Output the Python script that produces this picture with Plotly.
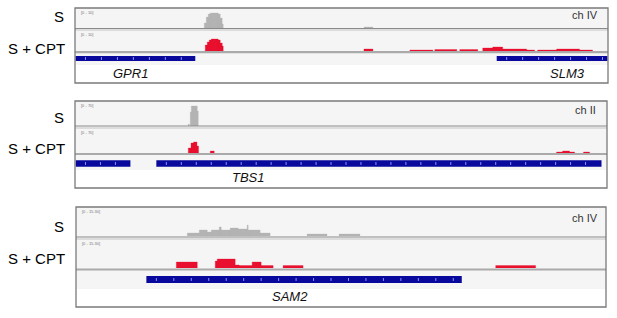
import plotly.graph_objects as go
import numpy as np

# ---------------- data (positions = offset along each locus window, heights = coverage) -------------
# Panel 1 : GPR1 / SLM3 locus (ch IV)
p1_s_start = [129, 131, 133, 135, 143, 145, 147, 289]
p1_s_end = [131, 133, 135, 143, 145, 147, 148, 298]
p1_s_val = [5, 11, 14, 15, 14, 10, 4, 1]

p1_c_start = [130, 132, 134, 136, 143, 145, 147, 289, 335, 360, 385, 408, 418, 428, 452, 463, 482, 505]
p1_c_end = [132, 134, 136, 143, 145, 147, 148, 298, 358, 382, 403, 418, 428, 452, 460, 482, 505, 518]
p1_c_val = [6, 9, 11, 12, 11, 8, 5, 2, 1, 1.5, 1.5, 3, 4, 2, 1, 1, 2, 1]

p1_gene_name = ["GPR1", "SLM3"]
p1_gene_start = [-40, 422]
p1_gene_end = [120, 560]

# Panel 2 : TBS1 locus (ch II)
p2_s_start = [113, 115, 116, 122]
p2_s_end = [114, 116, 122, 123]
p2_s_val = [2, 14, 20, 15]

p2_c_start = [113, 115.7, 118.3, 121.7, 135, 482, 488, 495, 509]
p2_c_end = [115.7, 118.3, 121.7, 123.3, 139, 488, 495, 500, 515]
p2_c_val = [5, 10, 11, 7, 2, 1, 2, 1, 1]

p2_gene_name = ["", "TBS1"]
p2_gene_start = [0, 81]
p2_gene_end = [55, 527]

# Panel 3 : SAM2 locus (ch IV)
p3_s_start = [111, 123, 131, 135, 140, 143, 145, 154, 162, 171, 172, 174, 184, 231, 263]
p3_s_end = [123, 131, 135, 140, 143, 145, 154, 162, 171, 172, 174, 184, 194, 251, 284]
p3_s_val = [3, 6, 4, 6, 6, 9, 6, 8, 7, 11, 6, 6, 3, 2, 2]

p3_c_start = [100, 139, 141, 159, 163, 176, 183, 185, 207, 420]
p3_c_end = [121, 141, 159, 163, 176, 183, 185, 197, 227, 460]
p3_c_val = [6, 7, 9, 3, 2.5, 6, 6, 2.5, 2.5, 2.5]

p3_gene_name = ["SAM2"]
p3_gene_start = [70]
p3_gene_end = [386]

chroms = ["ch IV", "ch II", "ch IV"]
ranges_txt = ["[0 - 10]", "[0 - 70]", "[0 - 15.30]"]
track_names = ["S", "S + CPT"]

# ---------------- layout geometry (pixels) ----------------
W, H = 617, 318
GRAY = "#b3b3b3"
RED = "#e8102e"
BLUE = "#08089c"

panels = [
    dict(left=75, right=608, top=8, bottom=83, s=(28, 9), c=(51, 31), g=(65, 53), gy=6.5, gw=5,
         line1=28.5, line2=30, base=(51, 53.3), glab=74, sy=17, cy=49, chy=15, chx=600,
         s_data=(p1_s_start, p1_s_end, p1_s_val), c_data=(p1_c_start, p1_c_end, p1_c_val),
         genes=(p1_gene_name, p1_gene_start, p1_gene_end), labx=[130, 567], step=16),
    dict(left=75, right=607, top=101, bottom=188, s=(126, 102), c=(153, 129), g=(170, 155), gy=6.5, gw=6.5,
         line1=126, line2=128, base=(153, 155), glab=177, sy=118, cy=148, chy=110, chx=598,
         s_data=(p2_s_start, p2_s_end, p2_s_val), c_data=(p2_c_start, p2_c_end, p2_c_val),
         genes=(p2_gene_name, p2_gene_start, p2_gene_end), labx=[None, 248], step=15),
    dict(left=76, right=606, top=207, bottom=307, s=(236, 208), c=(268, 240), g=(289, 272), gy=9.5, gw=7,
         line1=237, line2=239, base=(268.5, 270.5), glab=296, sy=227, cy=258, chy=218, chx=600,
         s_data=(p3_s_start, p3_s_end, p3_s_val), c_data=(p3_c_start, p3_c_end, p3_c_val),
         genes=(p3_gene_name, p3_gene_start, p3_gene_end), labx=[290], step=17.5),
]


def fx(x):
    return x / W


def fy(y):
    return 1 - y / H


def step_outline(starts, ends, vals):
    xs, ys = [], []
    for s, e, v in zip(starts, ends, vals):
        xs += [s, s, e, e, s, None]
        ys += [0, v, v, 0, 0, None]
    return xs, ys


fig = go.Figure()
shapes = []
annotations = []
layout_axes = {}
ax_i = 0

for pi, p in enumerate(panels):
    width = p["right"] - p["left"]
    shapes.append(dict(type="rect", xref="paper", yref="paper", layer="below",
                       x0=fx(p["left"]), x1=fx(p["right"]), y0=fy(p["g"][0]), y1=fy(p["top"]),
                       fillcolor="#f5f5f5", line=dict(width=0)))
    shapes.append(dict(type="line", xref="paper", yref="paper", x0=fx(p["left"]), x1=fx(p["right"]),
                       y0=fy(p["line1"]), y1=fy(p["line1"]), line=dict(color="#8a8a8a", width=1)))
    shapes.append(dict(type="line", xref="paper", yref="paper", x0=fx(p["left"]), x1=fx(p["right"]),
                       y0=fy(p["line2"]), y1=fy(p["line2"]), line=dict(color="#c4c4c4", width=1)))
    shapes.append(dict(type="rect", xref="paper", yref="paper", x0=fx(p["left"]), x1=fx(p["right"]),
                       y0=fy(p["base"][1]), y1=fy(p["base"][0]), fillcolor="#aaaaaa", line=dict(width=0)))
    shapes.append(dict(type="rect", xref="paper", yref="paper", x0=fx(p["left"]), x1=fx(p["right"]),
                       y0=fy(p["bottom"]), y1=fy(p["top"]), line=dict(color="#7a7a7a", width=1.3)))

    for key, data, col in [("s", p["s_data"], GRAY), ("c", p["c_data"], RED), ("g", None, BLUE)]:
        ax_i += 1
        xa = "xaxis" if ax_i == 1 else f"xaxis{ax_i}"
        ya = "yaxis" if ax_i == 1 else f"yaxis{ax_i}"
        xr = "x" if ax_i == 1 else f"x{ax_i}"
        yr = "y" if ax_i == 1 else f"y{ax_i}"
        ybot, ytop = p[key]
        layout_axes[xa] = dict(domain=[fx(p["left"] + 0.5), fx(p["right"] - 0.5)], range=[0, width],
                               visible=False, anchor=yr, fixedrange=True)
        layout_axes[ya] = dict(domain=[fy(ybot), fy(ytop)], range=[0, ybot - ytop],
                               visible=False, anchor=xr, fixedrange=True)
        if data is not None:
            xs, ys = step_outline(*data)
            fig.add_trace(go.Scatter(x=xs, y=ys, mode="lines", fill="toself", fillcolor=col,
                                     line=dict(width=0.3, color=col), xaxis=xr, yaxis=yr,
                                     showlegend=False, hoverinfo="skip"))
        else:
            names, gs, ge = p["genes"]
            gs = np.array(gs, float)
            ge = np.array(ge, float)
            fig.add_trace(go.Bar(orientation="h", base=gs, x=ge - gs, y=[p["gy"]] * len(gs), width=p["gw"],
                                 marker=dict(color=BLUE, line=dict(width=0)), xaxis=xr, yaxis=yr,
                                 showlegend=False, hoverinfo="skip"))
            tx = np.concatenate([np.arange(max(s, 0) + 10, min(e, width) - 4, p["step"]) for s, e in zip(gs, ge)])
            fig.add_trace(go.Scatter(x=tx, y=[p["gy"]] * len(tx), mode="markers",
                                     marker=dict(symbol="line-ns", size=2, line=dict(color="#8c9cff", width=1)),
                                     xaxis=xr, yaxis=yr, showlegend=False, hoverinfo="skip"))
            for nm, lx in zip(names, p["labx"]):
                if nm and lx is not None:
                    annotations.append(dict(x=fx(lx), y=fy(p["glab"]), xref="paper", yref="paper",
                                            text=f"<i>{nm}</i>", showarrow=False,
                                            font=dict(size=13, color="#111111", family="Liberation Sans, Arial"),
                                            xanchor="center", yanchor="middle"))
        if key in ("s", "c"):
            annotations.append(dict(x=fx(p["left"] + 4), y=fy(ytop - 1.5), xref="paper", yref="paper",
                                    text=ranges_txt[pi], showarrow=False,
                                    font=dict(size=4, color="#777777", family="Liberation Sans, Arial"),
                                    xanchor="left", yanchor="top"))

    annotations.append(dict(x=fx(66), y=fy(p["sy"]), xref="paper", yref="paper", text=track_names[0],
                            showarrow=False, font=dict(size=15, color="#000", family="Liberation Sans, Arial"),
                            xanchor="right", yanchor="middle"))
    annotations.append(dict(x=fx(67), y=fy(p["cy"]), xref="paper", yref="paper", text=track_names[1],
                            showarrow=False, font=dict(size=15, color="#000", family="Liberation Sans, Arial"),
                            xanchor="right", yanchor="middle"))
    annotations.append(dict(x=fx(p["chx"]), y=fy(p["chy"]), xref="paper", yref="paper", text=chroms[pi],
                            showarrow=False, font=dict(size=11, color="#333333", family="Liberation Sans, Arial"),
                            xanchor="right", yanchor="middle"))

fig.update_layout(width=W, height=H, margin=dict(l=0, r=0, t=0, b=0, pad=0),
                  paper_bgcolor="white", plot_bgcolor="rgba(0,0,0,0)",
                  shapes=shapes, annotations=annotations, **layout_axes)
fig.write_html("out.html", config=dict(displayModeBar=False),
               post_script="document.body.style.margin='0px';document.body.style.padding='0px';")
